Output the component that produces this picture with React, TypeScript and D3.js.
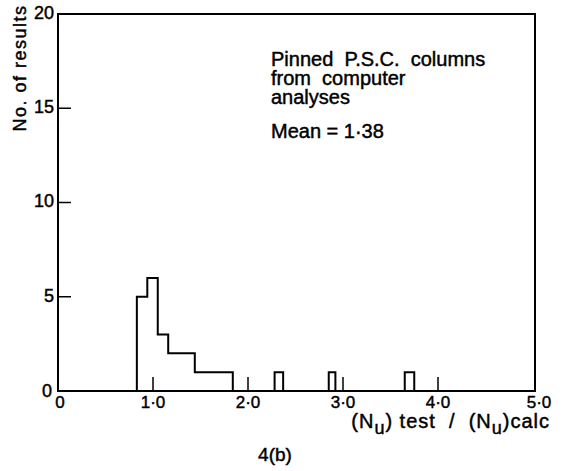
import React from "react";
import * as d3 from "d3";

// Histogram bins
const binStarts = [0.83, 0.94, 1.05, 1.16, 1.44, 2.28, 2.85, 3.65];
const binEnds = [0.94, 1.05, 1.16, 1.44, 1.84, 2.37, 2.92, 3.75];
const counts = [5, 6, 3, 2, 1, 1, 1, 1];

const xTicks = [0, 1, 2, 3, 4, 5];
const xTickLabels = ["0", "1·0", "2·0", "3·0", "4·0", "5·0"];
const yTicks = [0, 5, 10, 15, 20];
const yTickLabels = ["0", "5", "10", "15", "20"];

const annotationLines = ["Pinned  P.S.C.  columns", "from  computer", "analyses"];
const meanText = "Mean = 1·38";
const yLabel = "No. of results";
const caption = "4(b)";

const W = 565;
const H = 471;
const FONT = "'Liberation Sans', Arial, Helvetica, sans-serif";
const TEXT_STROKE = { stroke: "#000", strokeWidth: 0.45 } as const;

export default function App() {
  const x = d3.scaleLinear().domain([0, 5]).range([58, 533]);
  const y = d3.scaleLinear().domain([0, 20]).range([391, 14]);

  // Build step outline for contiguous groups of bins
  const bins = counts.map((c, i) => ({ x0: binStarts[i], x1: binEnds[i], c }));
  const groups: typeof bins[] = [];
  bins.forEach((b) => {
    const last = groups[groups.length - 1];
    if (last && Math.abs(last[last.length - 1].x1 - b.x0) < 1e-6) last.push(b);
    else groups.push([b]);
  });
  const path = groups
    .map((g) => {
      const p = d3.path();
      p.moveTo(x(g[0].x0), y(0));
      g.forEach((b) => {
        p.lineTo(x(b.x0), y(b.c));
        p.lineTo(x(b.x1), y(b.c));
      });
      p.lineTo(x(g[g.length - 1].x1), y(0));
      return p.toString();
    })
    .join(" ");

  const x0 = x(0);
  const x5 = x(5) + 2;
  const yTop = y(20);
  const yBot = y(0);

  return (
    <svg
      width={W}
      height={H}
      style={{ position: "absolute", left: 0, top: 0, background: "#fff" }}
      fontFamily={FONT}
    >
      <rect x={0} y={0} width={W} height={H} fill="#fff" />
      {/* frame */}
      <rect
        x={x0}
        y={yTop}
        width={x5 - x0}
        height={yBot - yTop}
        fill="none"
        stroke="#000"
        strokeWidth={2}
      />
      {/* y ticks */}
      {yTicks.map((t, i) => (
        <g key={"yt" + i}>
          {t > 0 && t < 20 && (
            <line x1={x0} x2={x0 + 13} y1={y(t)} y2={y(t)} stroke="#000" strokeWidth={1.5} />
          )}
          <text
            x={t === 0 ? 52 : 54}
            y={t === 0 ? y(t) + 1 : y(t)}
            textAnchor="end"
            dominantBaseline="middle"
            fontSize={18}
            fill="#000"
            {...TEXT_STROKE}
          >
            {yTickLabels[i]}
          </text>
        </g>
      ))}
      {/* x ticks */}
      {xTicks.map((t, i) => (
        <g key={"xt" + i}>
          {t > 0 && t < 5 && (
            <line x1={x(t)} x2={x(t)} y1={yBot} y2={yBot - 14} stroke="#000" strokeWidth={1.5} />
          )}
          <text
            x={t === 0 ? x(t) + 2 : t === 5 ? x(t) + 6 : x(t)}
            y={yBot + 17}
            textAnchor="middle"
            fontSize={17}
            fill="#000"
            {...TEXT_STROKE}
          >
            {xTickLabels[i]}
          </text>
        </g>
      ))}
      {/* histogram */}
      <path d={path} fill="none" stroke="#000" strokeWidth={2} />
      {/* y label */}
      <text
        transform="translate(26,68) rotate(-90)"
        textAnchor="middle"
        fontSize={18}
        letterSpacing={1.5}
        fill="#000"
        {...TEXT_STROKE}
      >
        {yLabel}
      </text>
      {/* annotation */}
      {annotationLines.map((s, i) => (
        <text
          key={"an" + i}
          x={271}
          y={66 + i * 19}
          fontSize={20}
          fill="#000"
          style={{ whiteSpace: "pre" }}
          {...TEXT_STROKE}
        >
          {s}
        </text>
      ))}
      <text x={271} y={138} fontSize={20} fill="#000" {...TEXT_STROKE}>
        {meanText}
      </text>
      {/* x label */}
      <text
        x={550}
        y={428}
        textAnchor="end"
        fontSize={20}
        letterSpacing={1}
        fill="#000"
        style={{ whiteSpace: "pre" }}
        {...TEXT_STROKE}
      >
        (N<tspan fontSize={18} dy={6}>u</tspan>
        <tspan dy={-6}>{") test  /  (N"}</tspan>
        <tspan fontSize={18} dy={6}>u</tspan>
        <tspan dy={-6}>)calc</tspan>
      </text>
      {/* caption */}
      <text x={275} y={461} textAnchor="middle" fontSize={19} fill="#000" {...TEXT_STROKE}>
        {caption}
      </text>
    </svg>
  );
}
